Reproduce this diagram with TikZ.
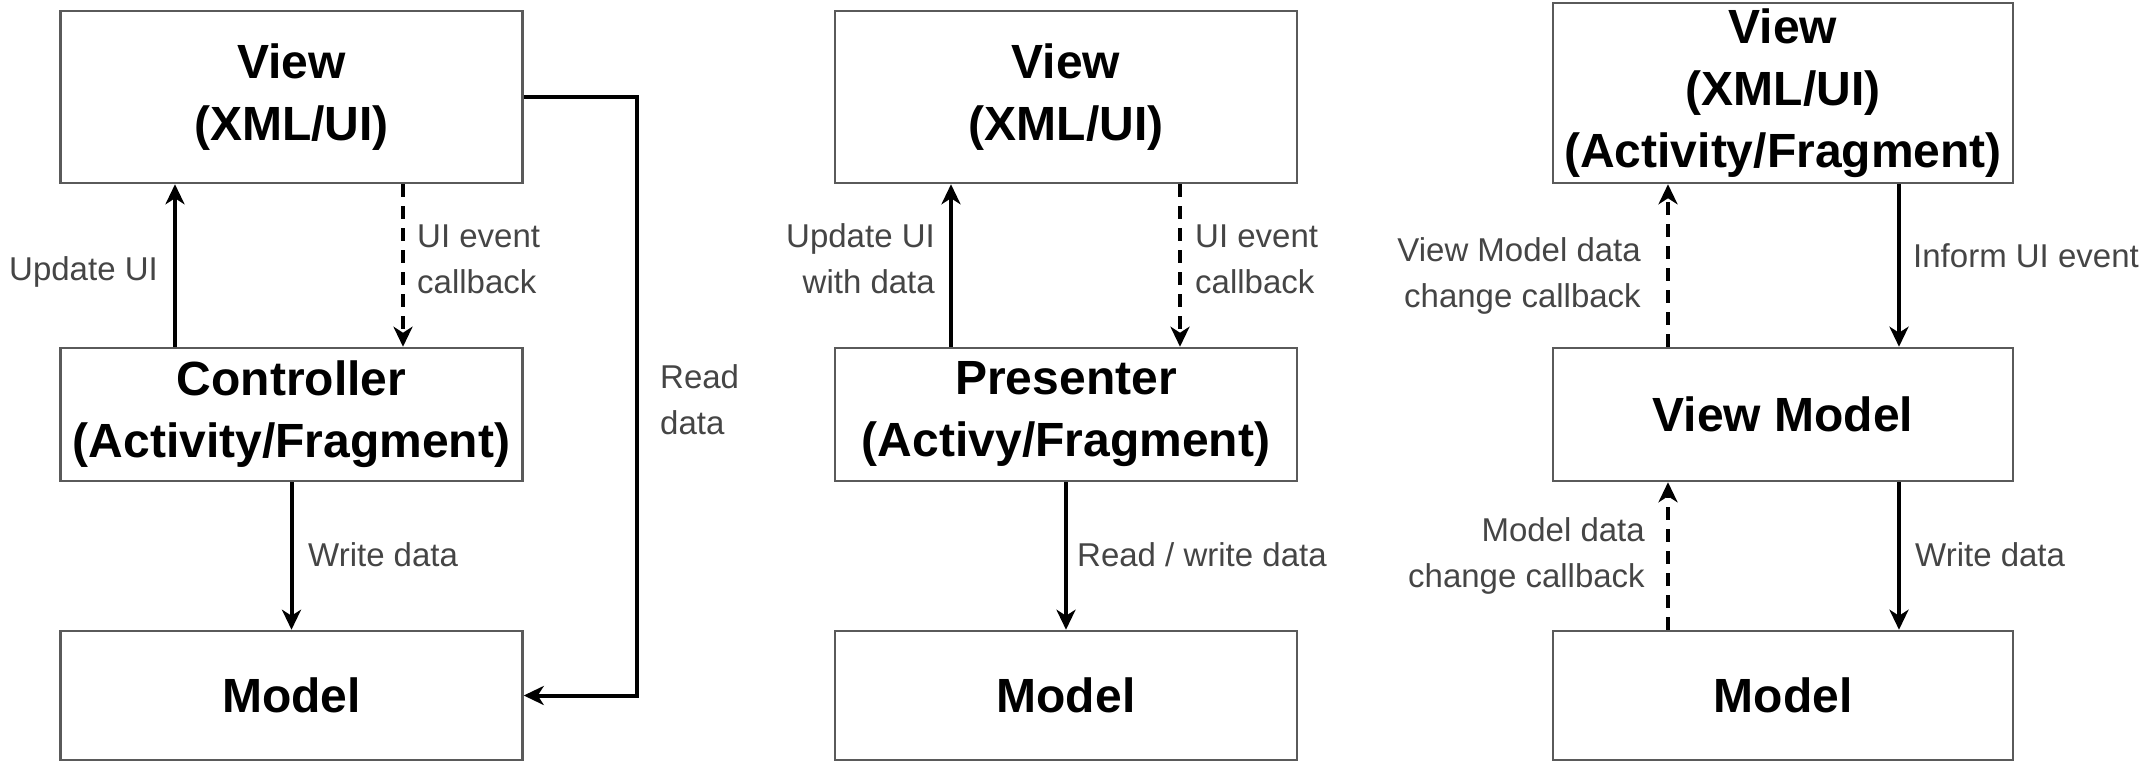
\documentclass[tikz,border=0pt]{standalone}
\usepackage{fontspec}
\setmainfont{Liberation Sans}
\usetikzlibrary{arrows.meta,calc}
\definecolor{boxline}{HTML}{5A5A5A}
\definecolor{lblc}{HTML}{454545}
\begin{document}
\begin{tikzpicture}[x=1pt,y=-1pt,
  box/.style={draw=boxline,line width=2.5pt,minimum width=462pt,inner sep=0pt,align=center,
    font=\fontsize{48}{62}\selectfont\bfseries},
  arr/.style={-{Stealth[length=20pt,width=19pt,inset=6pt]},line width=4pt,black},
  darr/.style={arr,dash pattern=on 13pt off 9pt},
  lbl/.style={font=\fontsize{33}{46}\selectfont,text=lblc,inner sep=0pt}]
\useasboundingbox (0,0) rectangle (2156,763);
% column 1 (MVC)
\node[box,minimum height=172pt] (v1) at (291.5,97) {View\\(XML/UI)};
\node[box,minimum height=133pt] (c1) at (291.5,414.5) {Controller\\(Activity/Fragment)};
\node[box,minimum height=129pt] (m1) at (291.5,695.5) {Model};
\coordinate (a1) at (175,0);
\coordinate (b1) at (403,0);
\coordinate (r1) at (637,0);
\draw[arr] (c1.north -| a1) -- (v1.south -| a1);
\draw[darr] (v1.south -| b1) -- (c1.north -| b1);
\draw[arr] (c1.south) -- (m1.north);
\draw[arr] (v1.east) -- (v1.east -| r1) -- (m1.east -| r1) -- (m1.east);
\node[lbl,anchor=east] (l1) at (158,272) {Update UI};
\node[lbl,anchor=west,align=left] (l2) at (417,259) {UI event\\callback};
\node[lbl,anchor=west] (l3) at (308,555) {Write data};
\node[lbl,anchor=west,align=left] (l4) at (660,400) {Read\\data};
% column 2 (MVP)
\node[box,minimum height=172pt] (v2) at (1066,97) {View\\(XML/UI)};
\node[box,minimum height=133pt] (p2) at (1066,414.5) {Presenter\\(Activy/Fragment)};
\node[box,minimum height=129pt] (m2) at (1066,695.5) {Model};
\coordinate (a2) at (951,0);
\coordinate (b2) at (1180,0);
\draw[arr] (p2.north -| a2) -- (v2.south -| a2);
\draw[darr] (v2.south -| b2) -- (p2.north -| b2);
\draw[arr] (p2.south) -- (m2.north);
\node[lbl,anchor=east,align=right] (l5) at (935,259) {Update UI\\with data};
\node[lbl,anchor=west,align=left] (l6) at (1195,259) {UI event\\callback};
\node[lbl,anchor=west] (l7) at (1077,555) {Read / write data};
% column 3 (MVVM)
\node[box,minimum width=460pt,minimum height=180pt] (v3) at (1783,93) {View\\(XML/UI)\\(Activity/Fragment)};
\node[box,minimum width=460pt,minimum height=133pt] (vm3) at (1783,414.5) {View Model};
\node[box,minimum width=460pt,minimum height=129pt] (m3) at (1783,695.5) {Model};
\coordinate (a3) at (1668,0);
\coordinate (b3) at (1899,0);
\draw[darr] (vm3.north -| a3) -- (v3.south -| a3);
\draw[arr] (v3.south -| b3) -- (vm3.north -| b3);
\draw[darr] (m3.north -| a3) -- (vm3.south -| a3);
\draw[arr] (vm3.south -| b3) -- (m3.north -| b3);
\node[lbl,anchor=east,align=right] (l8) at (1641,276) {View Model data\\change callback};
\node[lbl,anchor=west] (l9) at (1913,256) {Inform UI event};
\node[lbl,anchor=east,align=right] (l10) at (1645,556) {Model data\\change callback};
\node[lbl,anchor=west] (l11) at (1915,555) {Write data};
\end{tikzpicture}
\end{document}
